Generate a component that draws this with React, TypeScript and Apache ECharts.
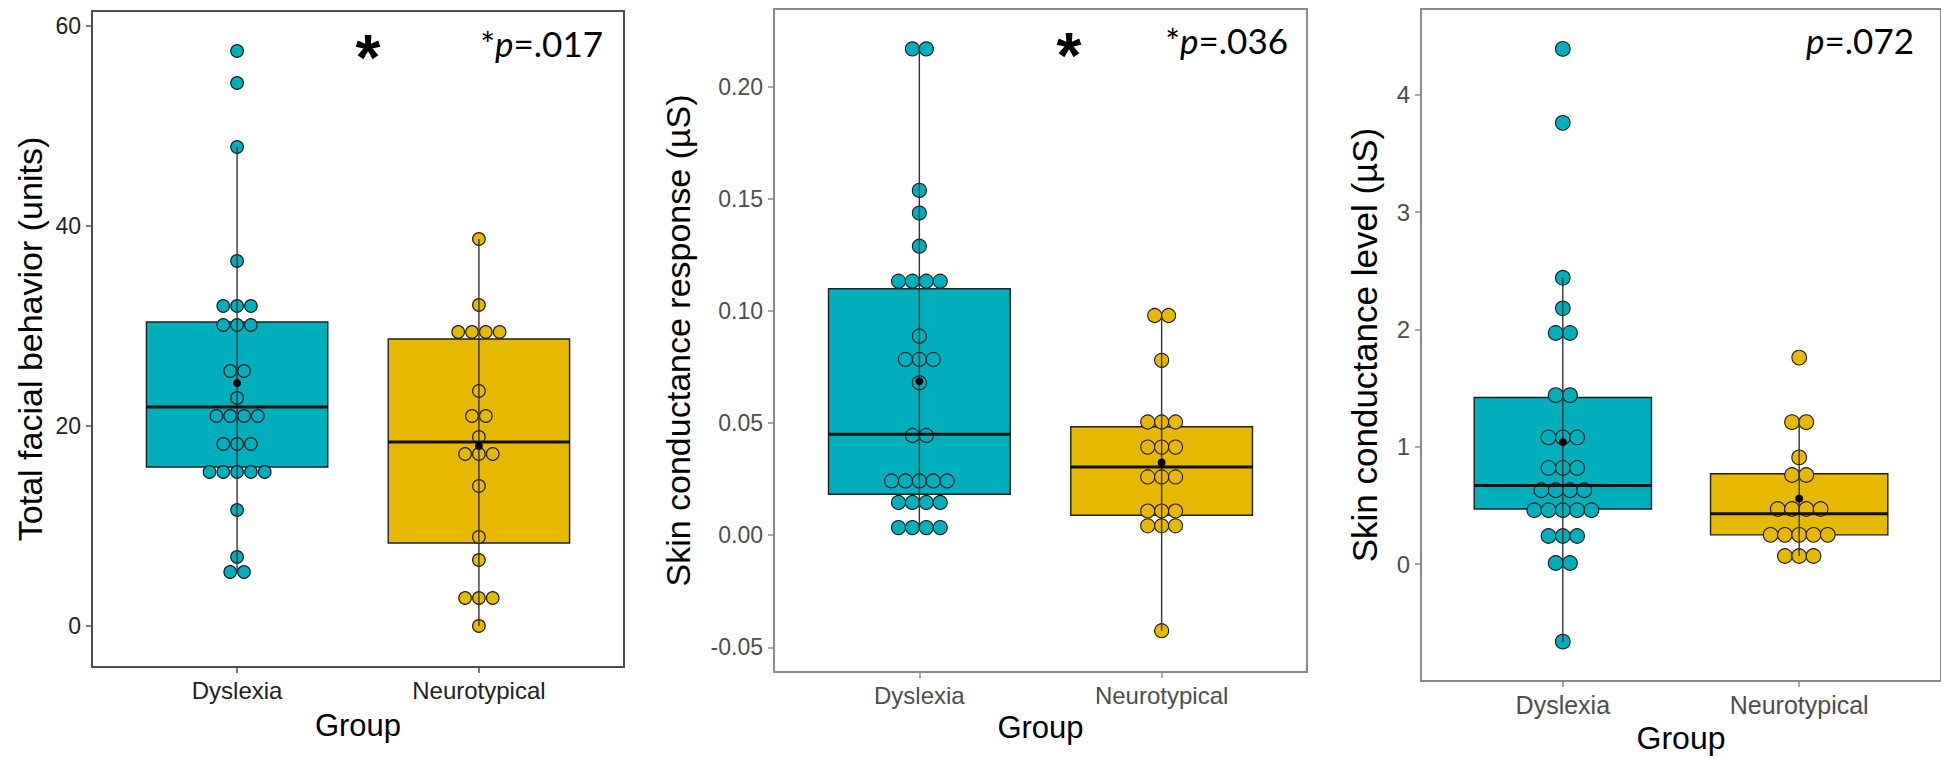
import React, { useEffect, useRef } from "react";
import * as echarts from "echarts";

const groups = ["Dyslexia", "Neurotypical"];
const groupColors = ["#00AFBB", "#E7B800"];

// Panel 1 — Total facial behavior (units)
const facialDys = [57.5, 54.3, 47.9, 36.5, 32.0, 32.0, 32.0, 30.1, 30.1, 30.1, 25.5, 25.5, 22.8, 21.0, 21.0, 21.0, 21.0, 18.2, 18.2, 18.2, 15.4, 15.4, 15.4, 15.4, 15.4, 11.6, 6.9, 5.4, 5.4];
const facialNT = [38.7, 32.1, 29.4, 29.4, 29.4, 29.4, 23.5, 21.0, 21.0, 18.9, 17.2, 17.2, 17.2, 14.0, 8.9, 6.6, 2.8, 2.8, 2.8, 0.0];
// [lower whisker, Q1, median, Q3, upper whisker]
const facialBoxDys = [5.4, 15.9, 21.9, 30.4, 47.9];
const facialBoxNT = [0.0, 8.3, 18.4, 28.7, 38.7];
const facialMeans = [24.3, 18.0];
const facialTicks = [0, 20, 40, 60];

// Panel 2 — Skin conductance response (µS)
const scrDys = [0.2169, 0.2169, 0.1538, 0.1437, 0.1289, 0.1133, 0.1133, 0.1133, 0.1133, 0.0888, 0.0784, 0.0784, 0.0784, 0.068, 0.0445, 0.0445, 0.0242, 0.0242, 0.0242, 0.0242, 0.0242, 0.0146, 0.0146, 0.0146, 0.0146, 0.0034, 0.0034, 0.0034, 0.0034];
const scrNT = [0.098, 0.098, 0.078, 0.0505, 0.0505, 0.0505, 0.0393, 0.0393, 0.0393, 0.026, 0.026, 0.026, 0.0108, 0.0108, 0.0108, 0.0042, 0.0042, 0.0042, -0.0426];
const scrBoxDys = [0.0034, 0.0183, 0.045, 0.1099, 0.2169];
const scrBoxNT = [-0.0426, 0.0089, 0.0304, 0.0484, 0.098];
const scrMeans = [0.0687, 0.0324];
const scrTicks = [-0.05, 0, 0.05, 0.1, 0.15, 0.2];

// Panel 3 — Skin conductance level (µS)
const sclDys = [4.39, 3.76, 2.44, 2.18, 1.97, 1.97, 1.44, 1.44, 1.08, 1.08, 1.08, 0.82, 0.82, 0.82, 0.63, 0.63, 0.63, 0.63, 0.46, 0.46, 0.46, 0.46, 0.46, 0.24, 0.24, 0.24, 0.01, 0.01, -0.66];
const sclNT = [1.76, 1.21, 1.21, 0.91, 0.76, 0.76, 0.47, 0.47, 0.47, 0.47, 0.25, 0.25, 0.25, 0.25, 0.25, 0.07, 0.07, 0.07];
const sclBoxDys = [-0.66, 0.47, 0.67, 1.42, 2.44];
const sclBoxNT = [0.07, 0.25, 0.43, 0.77, 1.21];
const sclMeans = [1.04, 0.56];
const sclTicks = [0, 1, 2, 3, 4];

const pValues = ["*p=.017", "*p=.036", "p=.072"];

type Panel = {
  grid: { left: number; top: number; width: number; height: number };
  yMin: number; yMax: number; ticks: number[]; dec: number;
  yName: string; yNameGap: number; yNameSize: number;
  xNameGap: number; xNameSize: number;
  xLabelSize: number; yLabelSize: number;
  dys: number[]; nt: number[]; boxDys: number[]; boxNT: number[]; means: number[];
  r: number; step: number; frame: string; labelColor: string;
};

const panels: Panel[] = [
  {
    grid: { left: 92, top: 11, width: 532, height: 656 },
    yMin: -4.1, yMax: 61.5, ticks: facialTicks, dec: 0,
    yName: "Total facial behavior (units)", yNameGap: 45, yNameSize: 34,
    xNameGap: 43, xNameSize: 31, xLabelSize: 24, yLabelSize: 23,
    dys: facialDys, nt: facialNT, boxDys: facialBoxDys, boxNT: facialBoxNT, means: facialMeans,
    r: 6.3, step: 13.8, frame: "#4d4d4d", labelColor: "#222222",
  },
  {
    grid: { left: 774, top: 9, width: 533, height: 663 },
    yMin: -0.061, yMax: 0.2347, ticks: scrTicks, dec: 2,
    yName: "Skin conductance response (µS)", yNameGap: 79, yNameSize: 34,
    xNameGap: 39, xNameSize: 31, xLabelSize: 24, yLabelSize: 23,
    dys: scrDys, nt: scrNT, boxDys: scrBoxDys, boxNT: scrBoxNT, means: scrMeans,
    r: 7, step: 13.9, frame: "#8a8a8a", labelColor: "#4d4d4d",
  },
  {
    grid: { left: 1421, top: 9, width: 526, height: 673 },
    yMin: -0.996, yMax: 4.73, ticks: sclTicks, dec: 0,
    yName: "Skin conductance level (µS)", yNameGap: 39, yNameSize: 35,
    xNameGap: 40, xNameSize: 32, xLabelSize: 25, yLabelSize: 24,
    dys: sclDys, nt: sclNT, boxDys: sclBoxDys, boxNT: sclBoxNT, means: sclMeans,
    r: 7.3, step: 14.3, frame: "#8a8a8a", labelColor: "#4d4d4d",
  },
];

function stackItems(values: number[], g: number) {
  const counts = new Map<number, number>();
  values.forEach((v) => counts.set(v, (counts.get(v) || 0) + 1));
  const seen = new Map<number, number>();
  return values.map((v) => {
    const k = seen.get(v) || 0;
    seen.set(v, k + 1);
    return [g, v, k, counts.get(v) as number];
  });
}

function buildOption() {
  const grid: any[] = [];
  const xAxis: any[] = [];
  const yAxis: any[] = [];
  const series: any[] = [];

  panels.forEach((p, i) => {
    grid.push({
      ...p.grid,
      show: true,
      borderColor: p.frame,
      borderWidth: 2,
      backgroundColor: "transparent",
      containLabel: false,
    });
    xAxis.push({
      type: "value",
      gridIndex: i,
      min: 0.4,
      max: 2.6,
      name: "Group",
      nameLocation: "middle",
      nameGap: p.xNameGap,
      nameTextStyle: { fontSize: p.xNameSize, color: "#000", fontFamily: "Liberation Sans" },
      splitLine: { show: false },
      axisLine: { show: true, onZero: false, lineStyle: { color: p.frame, width: 2 } },
      axisTick: { show: true, length: 6, customValues: [1, 2], lineStyle: { color: p.frame, width: 1.5 } },
      axisLabel: {
        customValues: [1, 2],
        margin: 11,
        fontSize: p.xLabelSize,
        color: p.labelColor,
        fontFamily: "Liberation Sans",
        formatter: (v: number) => groups[Math.round(v) - 1] || "",
      },
    });
    yAxis.push({
      type: "value",
      gridIndex: i,
      min: p.yMin,
      max: p.yMax,
      name: p.yName,
      nameLocation: "middle",
      nameRotate: 90,
      nameGap: p.yNameGap,
      nameTextStyle: { fontSize: p.yNameSize, color: "#000", fontFamily: "Liberation Sans" },
      splitLine: { show: false },
      axisLine: { show: true, onZero: false, lineStyle: { color: p.frame, width: 2 } },
      axisTick: { show: true, length: 6, customValues: p.ticks, lineStyle: { color: p.frame, width: 1.5 } },
      axisLabel: {
        customValues: p.ticks,
        margin: 11,
        fontSize: p.yLabelSize,
        color: p.labelColor,
        fontFamily: "Liberation Sans",
        formatter: (v: number) => v.toFixed(p.dec),
      },
    });

    const boxData = [
      [1, ...p.boxDys, p.means[0]],
      [2, ...p.boxNT, p.means[1]],
    ];

    // box bodies
    series.push({
      type: "custom",
      xAxisIndex: i,
      yAxisIndex: i,
      z: 2,
      silent: true,
      data: boxData,
      renderItem: (_params: any, api: any) => {
        const g = api.value(0);
        const q1 = api.value(2);
        const q3 = api.value(4);
        const a = api.coord([g - 0.375, q3]);
        const b = api.coord([g + 0.375, q1]);
        return {
          type: "rect",
          shape: { x: a[0], y: a[1], width: b[0] - a[0], height: b[1] - a[1] },
          style: { fill: groupColors[g - 1], stroke: "#1f1f1f", lineWidth: 1.4 },
        };
      },
    });

    // dots
    const dots = [...stackItems(p.dys, 1), ...stackItems(p.nt, 2)];
    series.push({
      type: "custom",
      xAxisIndex: i,
      yAxisIndex: i,
      z: 3,
      silent: true,
      data: dots,
      renderItem: (_params: any, api: any) => {
        const g = api.value(0);
        const v = api.value(1);
        const k = api.value(2);
        const n = api.value(3);
        const c = api.coord([g, v]);
        return {
          type: "circle",
          shape: { cx: c[0] + (k - (n - 1) / 2) * p.step, cy: c[1], r: p.r },
          style: { fill: groupColors[g - 1], stroke: "#1a1a1a", lineWidth: 1.1 },
        };
      },
    });

    // whiskers, medians, means
    series.push({
      type: "custom",
      xAxisIndex: i,
      yAxisIndex: i,
      z: 4,
      silent: true,
      data: boxData,
      renderItem: (_params: any, api: any) => {
        const g = api.value(0);
        const lo = api.coord([g, api.value(1)]);
        const hi = api.coord([g, api.value(5)]);
        const mL = api.coord([g - 0.375, api.value(3)]);
        const mR = api.coord([g + 0.375, api.value(3)]);
        const mean = api.coord([g, api.value(6)]);
        return {
          type: "group",
          children: [
            {
              type: "line",
              shape: { x1: lo[0], y1: lo[1], x2: hi[0], y2: hi[1] },
              style: { stroke: "#333333", lineWidth: 1.4 },
            },
            {
              type: "line",
              shape: { x1: mL[0], y1: mL[1], x2: mR[0], y2: mR[1] },
              style: { stroke: "#111111", lineWidth: 3 },
            },
            {
              type: "circle",
              shape: { cx: mean[0], cy: mean[1], r: 4 },
              style: { fill: "#000000" },
            },
          ],
        };
      },
    });
  });

  const pRich = {
    a: { fontFamily: "Lato", fontSize: 35, fill: "#000" },
    b: { fontFamily: "Lato", fontSize: 35, fontStyle: "italic", fill: "#000" },
  };
  const pText = (s: string) => {
    const idx = s.indexOf("p");
    return `{a|${s.slice(0, idx)}}{b|p}{a|${s.slice(idx + 1)}}`;
  };
  const graphic: any[] = [
    { type: "text", x: 603, y: 43, style: { text: pText(pValues[0]), rich: pRich, align: "right", verticalAlign: "middle" } },
    { type: "text", x: 1288, y: 40, style: { text: pText(pValues[1]), rich: pRich, align: "right", verticalAlign: "middle" } },
    { type: "text", x: 1914, y: 40, style: { text: pText(pValues[2]), rich: pRich, align: "right", verticalAlign: "middle" } },
    { type: "text", x: 368, y: 58, style: { text: "*", fontSize: 64, fontWeight: "bold", fontFamily: "Liberation Sans", fill: "#000", align: "center", verticalAlign: "middle" } },
    { type: "text", x: 1069, y: 56, style: { text: "*", fontSize: 64, fontWeight: "bold", fontFamily: "Liberation Sans", fill: "#000", align: "center", verticalAlign: "middle" } },
  ];

  return {
    animation: false,
    backgroundColor: "#ffffff",
    grid,
    xAxis,
    yAxis,
    series,
    graphic,
  };
}

export default function App() {
  const ref = useRef<HTMLDivElement>(null);
  useEffect(() => {
    if (!ref.current) return;
    const chart = echarts.init(ref.current, null, { renderer: "svg" });
    chart.setOption(buildOption() as any);
    return () => chart.dispose();
  }, []);
  return (
    <div
      ref={ref}
      style={{ position: "absolute", left: 0, top: 0, width: 1941, height: 759, background: "#fff" }}
    />
  );
}
